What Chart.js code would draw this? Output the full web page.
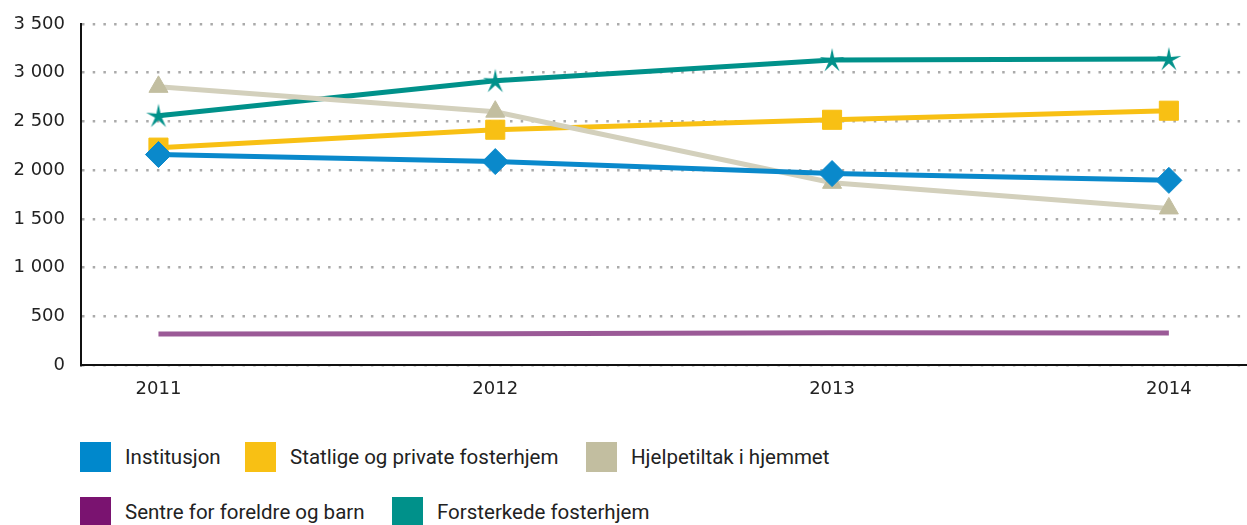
<!DOCTYPE html>
<html lang="no">
<head>
<meta charset="UTF-8">
<script src="https://cdn.jsdelivr.net/npm/chart.js@4.4.1/dist/chart.umd.min.js"></script>
<title>Tiltak 2011-2014</title>
<style>
  html, body { margin: 0; padding: 0; background: #fff; }
  #wrap { position: relative; width: 1247px; height: 525px; overflow: hidden; }
  #chartBox { position: absolute; left: 0; top: 0; width: 1247px; height: 410px; }
  .item { position: absolute; display: flex; align-items: center; height: 30px;
          font-family: Roboto, sans-serif; font-size: 20.5px; color: #222; white-space: nowrap; }
  .item span.box { display: inline-block; width: 31px; height: 30px; margin-right: 14px; }
</style>
</head>
<body>
<div id="wrap">
  <div id="chartBox"><canvas id="myChart"></canvas></div>
  <div id="legend"></div>
</div>
<script>
  const years = [2011, 2012, 2013, 2014];
  const institusjon = [2160, 2088, 1965, 1895];
  const statlige = [2231, 2415, 2517, 2610];
  const hjelpetiltak = [2855, 2600, 1870, 1607];
  const sentre = [318, 320, 332, 328];
  const forsterkede = [2559, 2917, 3131, 3142];
  const yTicks = [0, 500, 1000, 1500, 2000, 2500, 3000, 3500];

  const labels = ['Institusjon', 'Statlige og private fosterhjem', 'Hjelpetiltak i hjemmet',
    'Sentre for foreldre og barn', 'Forsterkede fosterhjem'];

  const pts = vals => years.map((y, i) => ({ x: y, y: vals[i] }));

  // thin five-pointed star used as marker for the teal series
  function starMarker(color) {
    const c = document.createElement('canvas');
    c.width = 30; c.height = 30;
    const g = c.getContext('2d');
    g.fillStyle = color;
    g.beginPath();
    for (let i = 0; i < 10; i++) {
      const r = i % 2 === 0 ? 13 : 3.6;
      const a = -Math.PI / 2 + i * Math.PI / 5;
      const px = 15 + r * Math.cos(a), py = 16 + r * Math.sin(a);
      if (i === 0) g.moveTo(px, py); else g.lineTo(px, py);
    }
    g.closePath();
    g.fill();
    return c;
  }

  const series = [
    { label: labels[3], data: pts(sentre), borderColor: '#9b5a97', swatch: '#7a1370',
      pointRadius: 0, pointStyle: 'circle' },
    { label: labels[0], data: pts(institusjon), borderColor: '#0a89cb', swatch: '#0088cc',
      pointRadius: 13, pointStyle: 'rectRot' },
    { label: labels[2], data: pts(hjelpetiltak), borderColor: '#d3d0bc', swatch: '#c2bea0',
      pointColor: '#c2bea0', pointRadius: 11, pointStyle: 'triangle' },
    { label: labels[1], data: pts(statlige), borderColor: '#f8c014', swatch: '#f8c014',
      pointRadius: 13.5, pointStyle: 'rect' },
    { label: labels[4], data: pts(forsterkede), borderColor: '#00918a', swatch: '#00918a',
      pointRadius: 13, pointStyle: starMarker('#00918a') }
  ];

  const datasets = series.map(s => ({
    label: s.label,
    data: s.data,
    borderColor: s.borderColor,
    backgroundColor: s.pointColor || s.borderColor,
    pointBackgroundColor: s.pointColor || s.borderColor,
    pointBorderColor: s.pointColor || s.borderColor,
    pointBorderWidth: 1,
    borderWidth: 5,
    pointRadius: s.pointRadius,
    pointHoverRadius: s.pointRadius,
    pointStyle: s.pointStyle,
    tension: 0
  }));

  const fmt = v => String(v).replace(/\B(?=(\d{3})+(?!\d))/g, ' ');

  const ctx = document.getElementById('myChart').getContext('2d');
  const myChart = new Chart(ctx, {
    type: 'line',
    data: { datasets },
    options: {
      responsive: true,
      maintainAspectRatio: false,
      animation: false,
      layout: { autoPadding: false, padding: { top: 24, left: 0, right: 0, bottom: 0 } },
      plugins: { legend: { display: false }, tooltip: { enabled: false } },
      scales: {
        x: {
          type: 'linear',
          min: 2010.77,
          max: 2014.232,
          afterBuildTicks: s => { s.ticks = years.map(v => ({ value: v })); },
          afterFit: s => { s.height = 45; s.paddingLeft = 0; s.paddingRight = 0; },
          grid: { display: false, drawTicks: false },
          border: { color: '#111', width: 2 },
          ticks: {
            padding: 14,
            color: '#222',
            font: { family: 'DejaVu Sans', size: 18 },
            callback: v => String(v)
          }
        },
        y: {
          min: 0,
          max: 3500,
          afterBuildTicks: s => { s.ticks = yTicks.map(v => ({ value: v })); },
          afterFit: s => { s.width = 81; s.paddingTop = 0; s.paddingBottom = 0; },
          grid: { color: '#aaaaaa', lineWidth: 2.5, drawTicks: false },
          border: { color: '#111', width: 2, dash: [2.5, 8.2] },
          ticks: {
            padding: 16,
            color: '#222',
            font: { family: 'DejaVu Sans', size: 18 },
            callback: v => fmt(v)
          }
        }
      }
    }
  });

  // legend drawn as html, left-aligned in two rows like the original
  const legendOrder = [1, 3, 2, 0, 4];
  const legendPos = [[80, 442], [245, 442], [586, 442], [80, 497], [392, 497]];
  const legendEl = document.getElementById('legend');
  legendOrder.forEach((si, k) => {
    const s = series[si];
    const it = document.createElement('div');
    it.className = 'item';
    it.style.left = legendPos[k][0] + 'px';
    it.style.top = legendPos[k][1] + 'px';
    it.innerHTML = '<span class="box" style="background:' + s.swatch + '"></span>' + s.label;
    legendEl.appendChild(it);
  });
</script>
</body>
</html>
